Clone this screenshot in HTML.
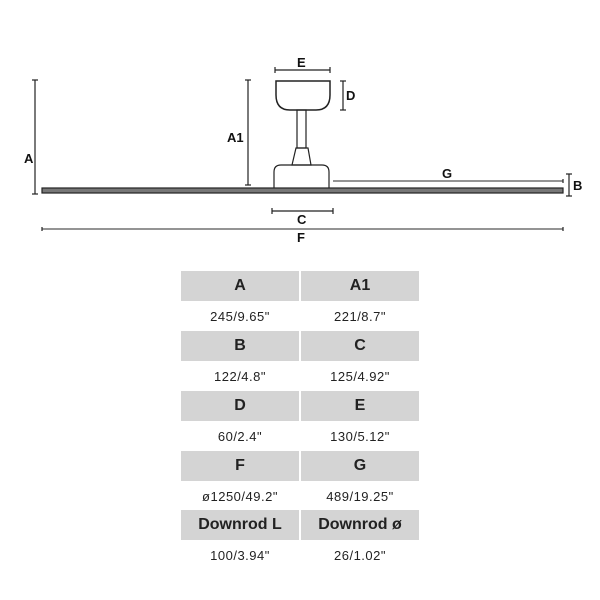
<!DOCTYPE html>
<html><head><style>
body{margin:0;background:#fff;width:600px;height:600px;position:relative;font-family:"Liberation Sans",Arial,sans-serif;}
.c{position:absolute;width:118px;height:30px;display:flex;align-items:center;justify-content:center;font-size:15px;color:#222;}
.g{background:#d4d4d4;font-weight:bold;font-size:16px;}
.v{letter-spacing:0.5px;font-size:13px;}
</style></head><body>
<svg width="600" height="260" style="position:absolute;left:0;top:0" font-family="Liberation Sans, Arial, sans-serif" font-weight="bold" font-size="13" fill="#111">
<g stroke="#222" stroke-width="1.2" fill="none">
<line x1="35" y1="80" x2="35" y2="194"/><line x1="32" y1="80" x2="38" y2="80"/><line x1="32" y1="194" x2="38" y2="194"/>
<line x1="248" y1="80" x2="248" y2="185"/><line x1="245" y1="80" x2="251" y2="80"/><line x1="245" y1="185" x2="251" y2="185"/>
<line x1="275" y1="70" x2="330" y2="70"/><line x1="275" y1="67" x2="275" y2="73"/><line x1="330" y1="67" x2="330" y2="73"/>
<line x1="343" y1="81" x2="343" y2="110"/><line x1="340" y1="81" x2="346" y2="81"/><line x1="340" y1="110" x2="346" y2="110"/>
<line x1="272" y1="211" x2="333" y2="211"/><line x1="272" y1="208" x2="272" y2="214"/><line x1="333" y1="208" x2="333" y2="214"/>
<line x1="42" y1="229" x2="563" y2="229" stroke="#555"/><line x1="42" y1="227" x2="42" y2="231"/><line x1="563" y1="227" x2="563" y2="231"/>
<line x1="333" y1="181" x2="563" y2="181" stroke="#555"/><line x1="563" y1="179" x2="563" y2="183"/>
<line x1="569" y1="174" x2="569" y2="196"/><line x1="566" y1="174" x2="572" y2="174"/><line x1="566" y1="196" x2="572" y2="196"/>
<path d="M276 81 H330 V95 Q330 110 316 110 H290 Q276 110 276 95 Z" stroke-width="1.5"/>
<rect x="297" y="110" width="9" height="38"/>
<path d="M296 148 H308 L311 165 H292 Z"/>
<path d="M274 189 V172 Q274 165 281 165 H322 Q329 165 329 172 V189"/>
</g>
<rect x="42" y="188" width="521" height="5" fill="#777" stroke="#222" stroke-width="1.2"/>
<text x="24" y="163">A</text><text x="227" y="142">A1</text><text x="297" y="67">E</text>
<text x="346" y="100">D</text><text x="297" y="224">C</text><text x="297" y="242">F</text>
<text x="442" y="178">G</text><text x="573" y="190">B</text>
</svg>
<div class="c g" style="left:181px;top:271px">A</div><div class="c g" style="left:301px;top:271px">A1</div>
<div class="c v" style="left:181px;top:301px">245/9.65"</div><div class="c v" style="left:301px;top:301px">221/8.7"</div>
<div class="c g" style="left:181px;top:331px">B</div><div class="c g" style="left:301px;top:331px">C</div>
<div class="c v" style="left:181px;top:361px">122/4.8"</div><div class="c v" style="left:301px;top:361px">125/4.92"</div>
<div class="c g" style="left:181px;top:391px">D</div><div class="c g" style="left:301px;top:391px">E</div>
<div class="c v" style="left:181px;top:421px">60/2.4"</div><div class="c v" style="left:301px;top:421px">130/5.12"</div>
<div class="c g" style="left:181px;top:451px">F</div><div class="c g" style="left:301px;top:451px">G</div>
<div class="c v" style="left:181px;top:481px">ø1250/49.2"</div><div class="c v" style="left:301px;top:481px">489/19.25"</div>
<div class="c g" style="left:181px;top:510px">Downrod L</div><div class="c g" style="left:301px;top:510px">Downrod ø</div>
<div class="c v" style="left:181px;top:540px">100/3.94"</div><div class="c v" style="left:301px;top:540px">26/1.02"</div>
</body></html>
